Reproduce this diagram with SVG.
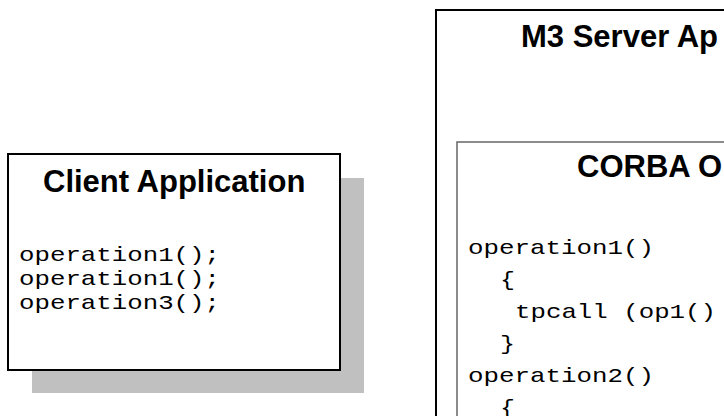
<svg xmlns="http://www.w3.org/2000/svg" width="724" height="416" viewBox="0 0 724 416">
<style>
.box{fill:#fff;stroke:#000;stroke-width:2}
.inner{fill:#fff;stroke:#666;stroke-width:1.5}
.shadow{fill:#c0c0c0;stroke:none}
.title{font-family:"Liberation Sans",Arial,sans-serif;font-weight:bold;font-size:31px;fill:#000}
.code{font-family:"Liberation Mono","Courier New",monospace;font-size:21px;fill:#000}
</style>
<rect width="724" height="416" fill="#fff"/>
<g id="client">
<rect class="shadow" x="32" y="178" width="332" height="215"/>
<rect class="box" x="8" y="154" width="332" height="216"/>
<text class="title" x="43" y="192">Client Application</text>
<text class="code" x="19" y="261" textLength="201" lengthAdjust="spacingAndGlyphs">operation1();</text>
<text class="code" x="19" y="285" textLength="201" lengthAdjust="spacingAndGlyphs">operation1();</text>
<text class="code" x="19" y="309" textLength="201" lengthAdjust="spacingAndGlyphs">operation3();</text>
</g>
<g id="server">
<rect class="box" x="436" y="10" width="300" height="420"/>
<text class="title" x="521" y="47">M3 Server Ap</text>
<g id="corba">
<rect class="inner" x="457" y="142" width="280" height="290"/>
<text class="title" x="577" y="177">CORBA O</text>
<text class="code" x="468" y="254" textLength="186" lengthAdjust="spacingAndGlyphs">operation1()</text>
<text class="code" x="500" y="286" textLength="15" lengthAdjust="spacingAndGlyphs">{</text>
<text class="code" x="515" y="318" textLength="201" lengthAdjust="spacingAndGlyphs">tpcall (op1()</text>
<text class="code" x="500" y="350" textLength="15" lengthAdjust="spacingAndGlyphs">}</text>
<text class="code" x="468" y="382" textLength="186" lengthAdjust="spacingAndGlyphs">operation2()</text>
<text class="code" x="500" y="414" textLength="15" lengthAdjust="spacingAndGlyphs">{</text>
</g>
</g>
<g id="connectors"></g>
</svg>
